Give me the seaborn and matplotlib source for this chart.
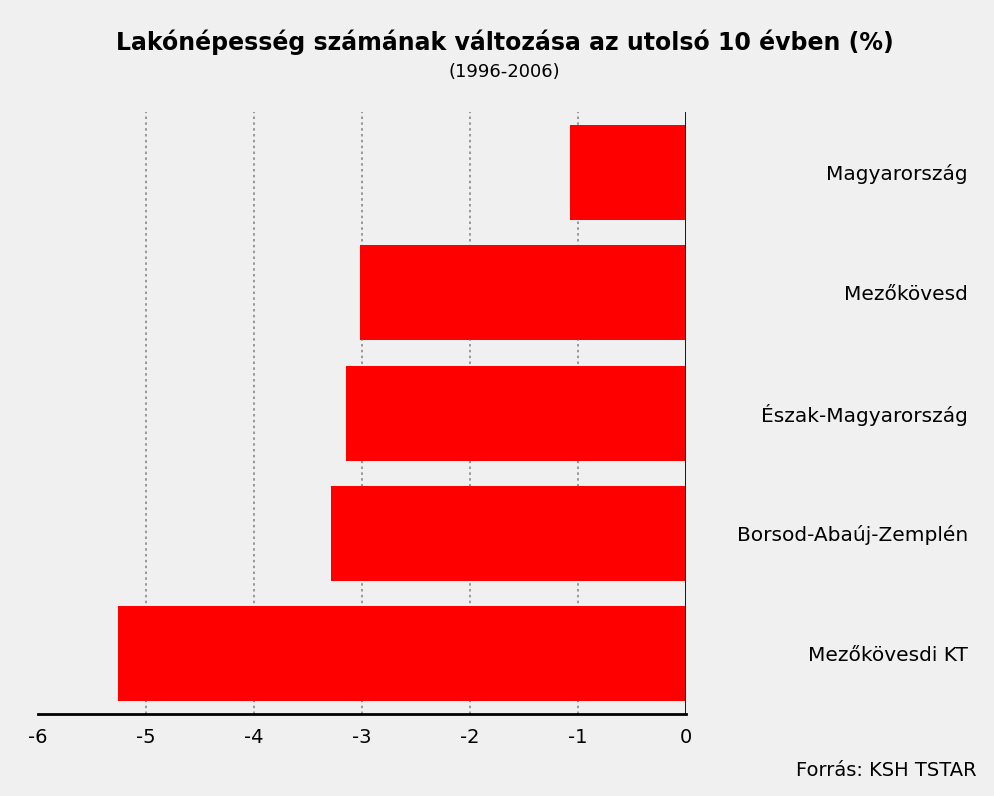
import matplotlib
matplotlib.use("Agg")
import matplotlib.pyplot as plt
import seaborn as sns
import pandas as pd

categories = ["Magyarország", "Mezőkövesd", "Észak-Magyarország",
              "Borsod-Abaúj-Zemplén", "Mezőkövesdi KT"]
values = [-1.07, -3.02, -3.15, -3.29, -5.26]
xticks = [-6, -5, -4, -3, -2, -1, 0]

title = "Lakónépesség számának változása az utolsó 10 évben (%)"
subtitle = "(1996-2006)"
source = "Forrás: KSH TSTAR"

df = pd.DataFrame({"cat": categories, "val": values})

sns.set_style("white")
plt.rcParams["font.family"] = ["DejaVu Sans"]
plt.rcParams["text.color"] = "black"
plt.rcParams["xtick.color"] = "black"
plt.rcParams["ytick.color"] = "black"
bg = "#f0f0f0"
fig = plt.figure(figsize=(9.95, 7.96), dpi=100, facecolor=bg)
ax = fig.add_axes([0.0382, 0.103, 0.6512, 0.756], facecolor=bg)

sns.barplot(data=df, x="val", y="cat", orient="h", color="#ff0000",
            saturation=1, width=0.79, ax=ax, order=categories,
            edgecolor="none", linewidth=0)

ax.set_xlim(-6, 0)
ax.set_ylim(4.5, -0.5)
ax.set_xticks(xticks)
ax.set_xticklabels([str(t) for t in xticks], fontsize=14)
ax.set_xlabel("")
ax.set_ylabel("")
for t in xticks[1:-1]:
    ax.axvline(t, color="#888888", linestyle=(0, (1.5, 2)), lw=1.2, zorder=0)
ax.axvline(0, color="black", lw=2, zorder=3)

for s in ["left", "top", "right"]:
    ax.spines[s].set_visible(False)
ax.spines["bottom"].set_color("black")
ax.spines["bottom"].set_linewidth(2)
ax.tick_params(axis="x", length=0, pad=10)

ax.yaxis.tick_right()
ax.tick_params(axis="y", length=0, pad=203, labelsize=14.5)
for lab in ax.get_yticklabels():
    lab.set_horizontalalignment("right")

fig.text(0.507, 0.947, title, ha="center", va="center", fontsize=17, fontweight="bold")
fig.text(0.507, 0.91, subtitle, ha="center", va="center", fontsize=13)
fig.text(0.982, 0.032, source, ha="right", va="center", fontsize=14)

fig.savefig("out.png", dpi=100, facecolor=bg)
